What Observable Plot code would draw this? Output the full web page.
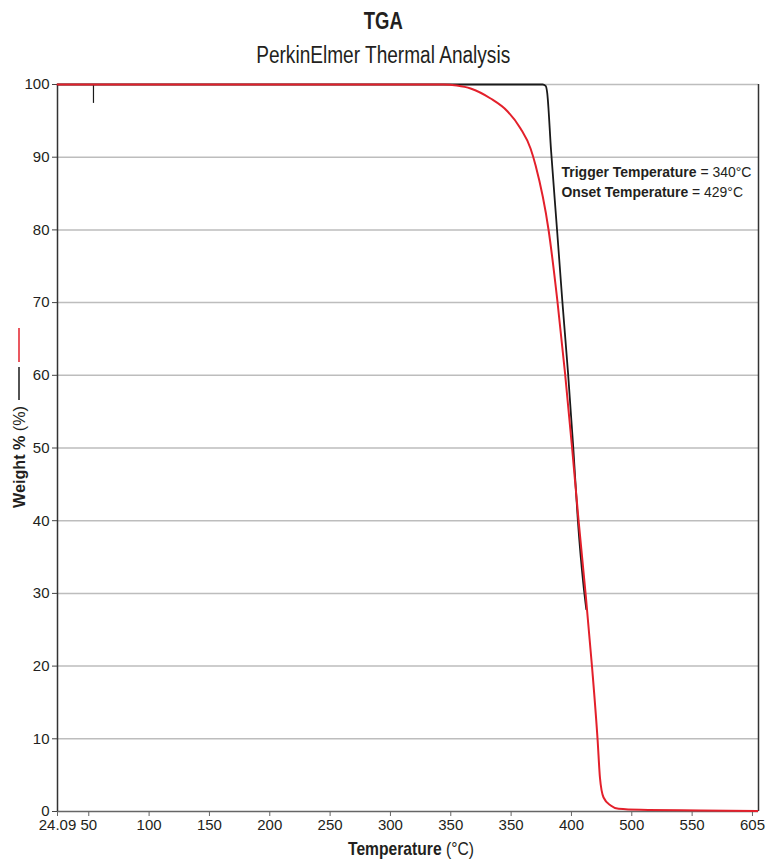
<!DOCTYPE html>
<html><head><meta charset="utf-8">
<script src="https://cdn.jsdelivr.net/npm/d3@7"></script>
<script src="https://cdn.jsdelivr.net/npm/@observablehq/plot@0.6"></script>
<style>
body{margin:0;background:#fff;font-family:"Liberation Sans",Arial,sans-serif;color:#231f20;}
.ttl{position:absolute;left:0;width:766px;text-align:center;}
.ttl span{display:inline-block;transform-origin:50% 50%;white-space:nowrap;}
#title{top:7px;font-weight:bold;font-size:24px;line-height:28px;}
#subtitle{top:42px;font-size:23px;line-height:27px;}
#chart{position:absolute;left:0;top:70px;}
</style></head><body>
<div id="title" class="ttl"><span>TGA</span></div>
<div id="subtitle" class="ttl"><span>PerkinElmer Thermal Analysis</span></div>
<div id="chart"></div>
<script>
// Red curve (weight % vs temperature)
const redTemp   = [24.09, 344.0, 355.0, 366.4, 383.0, 397.1, 407.8, 416.1, 420.3, 431.1, 438.3, 444.7, 450.5, 455.9, 461.7, 467.1, 471.7, 473.6, 476.6, 482.5, 489.1, 507.3, 557.0, 604.0];
const redWeight = [100, 100, 99.85, 99.45, 98.07, 96.29, 93.95, 91.2, 88.86, 79.92, 70.29, 60.25, 50.07, 40.03, 29.99, 19.81, 9.77, 4.68, 1.93, 0.83, 0.37, 0.23, 0.15, 0.08];
// Black curve
const blackTemp   = [24.09, 426.1, 428.6, 429.8, 433.1, 438.1, 442.4, 447.2, 451.5, 455.3, 459.8, 462.3];
const blackWeight = [100, 100, 99.8, 99.0, 90.92, 79.92, 70.29, 60.25, 50.07, 40.03, 31.36, 27.79];
// Small black spike
const spikeTemp = [53.9];
const spikeWeight = [97.4];
// Axes
const xTicks = [24.09, 50, 100, 150, 200, 250, 300, 350, 400, 450, 500, 550, 600];
const xTickLabels = ["24.09", "50", "100", "150", "200", "250", "300", "350", "350", "400", "500", "550", "605"];
const yTicks = [0, 10, 20, 30, 40, 50, 60, 70, 80, 90, 100];
const yGrid = [10, 20, 30, 40, 50, 60, 70, 80, 90, 100];
const xLabelText = ["Temperature", " (°C)"];
const yLabelText = ["Weight %", " (%)"];
const annLines = [["Trigger Temperature", " = 340°C"], ["Onset Temperature", " = 429°C"]];

const FONT = '"Liberation Sans",Arial,sans-serif';
const red = redTemp.map((t, i) => ({t, w: redWeight[i]}));
const black = blackTemp.map((t, i) => ({t, w: blackWeight[i]}));
const spike = spikeTemp.map((t, i) => ({t, w: spikeWeight[i]}));
const labelMap = new Map(xTicks.map((d, i) => [d, xTickLabels[i]]));

// condense HTML titles to match narrow typeface widths
[["#title span", 39], ["#subtitle span", 254]].forEach(([sel, target]) => {
  const el = document.querySelector(sel);
  const w = el.getBoundingClientRect().width;
  el.style.transform = `scaleX(${target / w})`;
});

const plot = Plot.plot({
  width: 766, height: 790,
  marginTop: 14, marginBottom: 49, marginLeft: 57, marginRight: 8,
  x: {domain: [24.09, 605]},
  y: {domain: [0, 100]},
  style: {fontFamily: FONT, fontSize: "15px", color: "#231f20", background: "transparent"},
  marks: [
    Plot.ruleY(yGrid, {stroke: "#bdbdbd", strokeWidth: 1.5}),
    Plot.ruleX([605], {stroke: "#333", strokeWidth: 1.5}),
    Plot.ruleY([0], {stroke: "#666", strokeWidth: 1.5}),
    Plot.ruleX([24.09], {stroke: "#333", strokeWidth: 1.5}),
    Plot.axisY({ticks: yTicks, tickSize: 5, tickPadding: 3, label: null, fontSize: 15, stroke: "#444"}),
    Plot.axisX({ticks: xTicks, tickSize: 5, tickPadding: 3, label: null, fontSize: 15, stroke: "#666", tickFormat: d => labelMap.get(d)}),
    Plot.line(black, {x: "t", y: "w", stroke: "#1a1a1a", strokeWidth: 1.8, curve: "monotone-x"}),
    Plot.ruleX(spike, {x: "t", y1: "w", y2: 100, stroke: "#1a1a1a", strokeWidth: 1.2}),
    Plot.line(red, {x: "t", y: "w", stroke: "#e3202b", strokeWidth: 2, curve: "monotone-x"})
  ]
});
document.getElementById("chart").appendChild(plot);

const svg = d3.select(plot);
function richText(parent, parts, size, boldFirst) {
  const t = parent.append("text").attr("x", 0).attr("y", 0).attr("text-anchor", "start")
    .attr("font-family", FONT).attr("font-size", size).attr("fill", "#231f20");
  t.append("tspan").attr("font-weight", "bold").text(parts[0]);
  t.append("tspan").text(parts[1]);
  return t;
}

// X axis label (centered at 411, baseline 785 in svg coords), width ~126
{
  const g = svg.append("g");
  const t = richText(g, xLabelText, 18);
  const len = t.node().getComputedTextLength();
  const k = 126 / len;
  g.attr("transform", `translate(${411 - 63},785) scale(${k},1)`);
}

// Y axis label with legend lines
{
  const g = svg.append("g").attr("transform", "translate(25,438) rotate(-90)");
  const inner = g.append("g");
  const t = richText(inner, yLabelText, 17);
  const len = t.node().getComputedTextLength();
  const k = 102 / len;
  inner.attr("transform", `scale(${k},1)`);
  const L = 102;
  g.append("line").attr("x1", L + 6).attr("x2", L + 39).attr("y1", -6).attr("y2", -6).attr("stroke", "#1a1a1a").attr("stroke-width", 1.5);
  g.append("line").attr("x1", L + 44).attr("x2", L + 78).attr("y1", -6).attr("y2", -6).attr("stroke", "#e3202b").attr("stroke-width", 1.5);
}

// Annotation
[190, 181.6].forEach((target, i) => {
  const g = svg.append("g");
  const t = richText(g, annLines[i], 15);
  const len = t.node().getComputedTextLength();
  g.attr("transform", `translate(561.5,${107.3 + i * 19.4}) scale(${target / len},1)`);
});
</script>
</body></html>
